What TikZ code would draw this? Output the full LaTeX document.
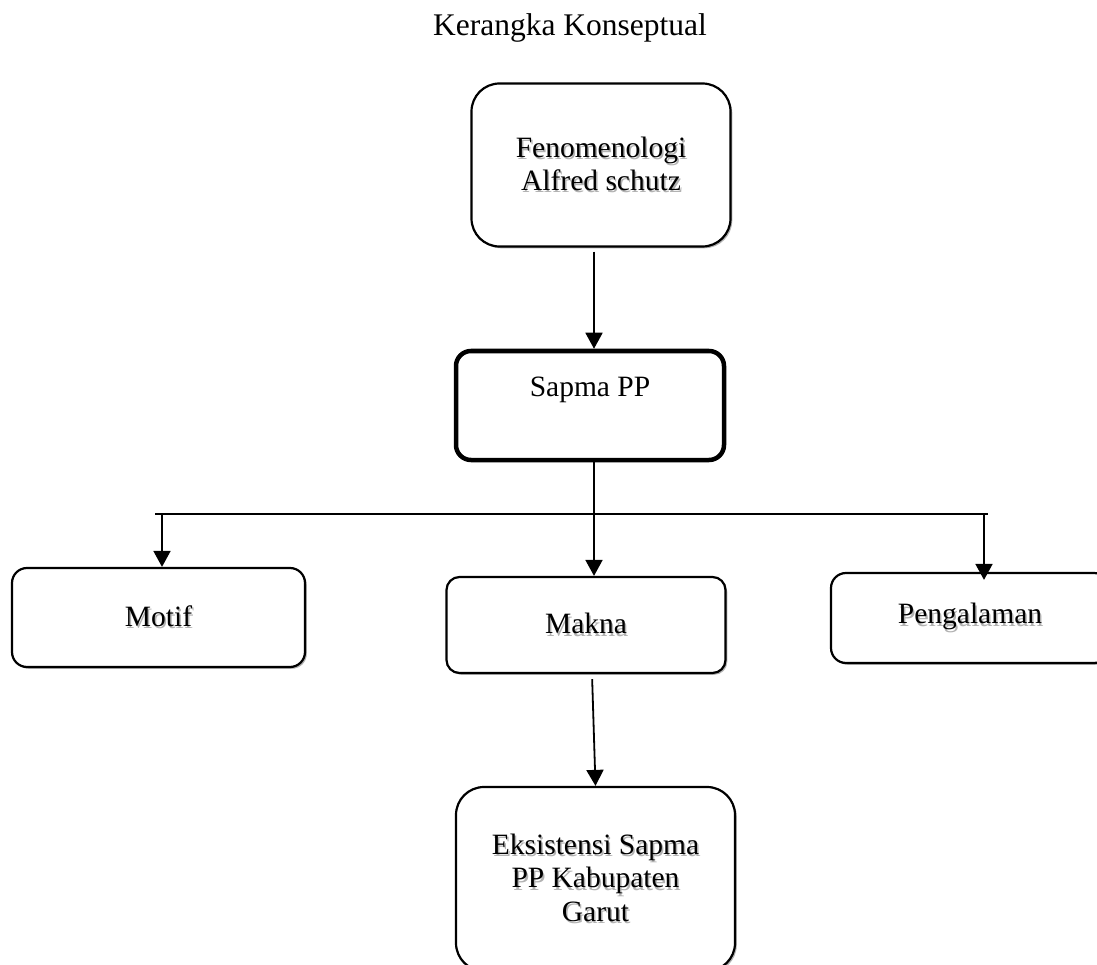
\documentclass[tikz,border=0pt]{standalone}
\usepackage{fontspec}
\setmainfont{Liberation Serif}
\usetikzlibrary{arrows.meta,shadows,positioning}
\newcommand{\shd}[1]{\makebox[0pt][l]{\hspace{1.5pt}\raisebox{-2.2pt}{\textcolor{gray!60}{#1}}}#1}

\begin{document}
\begin{tikzpicture}[x=1pt, y=-1pt, >={Triangle[length=16pt,width=17pt]},
    basebox/.style={draw, line width=2.2pt, fill=white, rounded corners=15pt, align=center,
      font=\fontsize{29.5}{33.5}\selectfont},
    box/.style={basebox, drop shadow={shadow xshift=1.8pt, shadow yshift=-1.8pt, fill=gray!60, opacity=1}},
    link/.style={->, line width=1.8pt}]
    \useasboundingbox (0,0) rectangle (1097,965);
    \clip (0,0) rectangle (1097,965);
    \node[font=\fontsize{31.5}{36}\selectfont] (title) at (570,28) {Kerangka Konseptual};
    \node[box, rounded corners=28pt, minimum width=259pt, minimum height=163pt] (fen) at (601,165) {\shd{Fenomenologi}\\\shd{Alfred schutz}};
    \node[basebox, line width=4.5pt, minimum width=268pt, minimum height=109pt, text height=21pt, text depth=40pt] (sapma) at (590,405.5) {Sapma PP};
    \node[box, minimum width=293pt, minimum height=99pt] (motif) at (158.5,617.5) {\shd{Motif}};
    \node[box, rounded corners=13pt, minimum width=279pt, minimum height=96pt] (makna) at (586,625) {\shd{Makna}};
    \node[box, minimum width=278pt, minimum height=90pt] (peng) at (970,618) {\shd{Pengalaman}};
    \node[box, rounded corners=28pt, minimum width=279pt, minimum height=184pt] (eks) at (595.5,879) {\shd{Eksistensi Sapma}\\\shd{PP Kabupaten}\\\shd{Garut}};
    \coordinate (axis) at (594,0);
    \coordinate (busL) at (155,514);
    \coordinate (busR) at (988,514);
    \coordinate (bm) at (162,514);
    \coordinate (bp) at (984,514);
    \draw[link, shorten <=4pt] (fen.south -| axis) -- (sapma.north -| axis);
    \draw[link] (sapma.south -| axis) -- (makna.north -| axis);
    \draw[line width=1.6pt] (busL) -- (busR);
    \draw[link] (bm) -- (bm |- motif.north);
    \draw[link] (bp) -- ([yshift=-8pt]bp |- peng.north);
    \draw[link, shorten <=5pt] ([xshift=-2pt]makna.south -| axis) -- (eks.north);
\end{tikzpicture}
\end{document}
